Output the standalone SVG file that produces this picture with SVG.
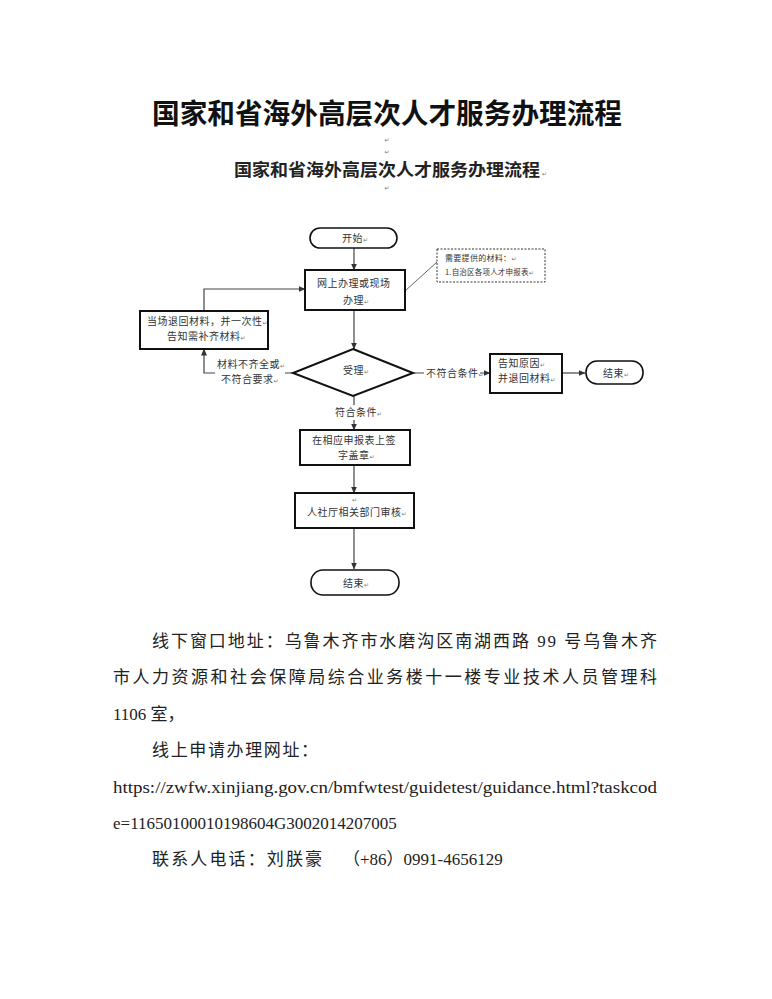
<svg xmlns="http://www.w3.org/2000/svg" width="772" height="999" viewBox="0 0 772 999">
<defs>
<marker id="ah" markerWidth="7" markerHeight="6" refX="6.5" refY="3" orient="auto" markerUnits="userSpaceOnUse"><path d="M0,0 L7,3 L0,6 Z" fill="#333"/></marker>
<style>
.cn{font-family:"Noto Sans CJK SC","Liberation Sans",sans-serif;font-size:10px;fill:#333;letter-spacing:0.5px}
.pm{font-family:"DejaVu Sans",sans-serif;font-size:6px;fill:#777;letter-spacing:0}
.box{fill:#fff;stroke:#111;stroke-width:2}
.term{fill:#fff;stroke:#111;stroke-width:1.6}
.ln{fill:none;stroke:#444;stroke-width:1.2}
.body{font-family:"Liberation Serif","Noto Sans CJK SC",serif;font-size:17px;fill:#222}
</style>
</defs>
<rect width="772" height="999" fill="#fff"/>
<g id="title">
<text x="152" y="124" font-family="Noto Sans CJK SC, sans-serif" font-size="28" font-weight="700" fill="#111" textLength="470" lengthAdjust="spacingAndGlyphs">国家和省海外高层次人才服务办理流程</text>
</g>
<g id="subtitle">
<text x="387" y="142" text-anchor="middle" class="pm">↵</text>
<text x="387" y="154" text-anchor="middle" class="pm">↵</text>
<text x="234" y="176" font-family="Noto Sans CJK SC, sans-serif" font-size="17" font-weight="700" fill="#222" textLength="306" lengthAdjust="spacingAndGlyphs">国家和省海外高层次人才服务办理流程</text>
<text x="542" y="176" class="pm">↵</text>
<text x="387" y="190" text-anchor="middle" class="pm">↵</text>
</g>
<g id="connectors">
<line class="ln" x1="354" y1="248" x2="354" y2="270" marker-end="url(#ah)"/>
<line class="ln" x1="354" y1="310" x2="354" y2="349" marker-end="url(#ah)"/>
<polyline class="ln" points="293,373 204,373 204,349" marker-end="url(#ah)"/>
<polyline class="ln" points="204,311 204,289 305,289" marker-end="url(#ah)"/>
<line class="ln" x1="413" y1="373" x2="490" y2="373" marker-end="url(#ah)"/>
<line class="ln" x1="562" y1="373" x2="585" y2="373" marker-end="url(#ah)"/>
<line class="ln" x1="354" y1="396" x2="354" y2="430" marker-end="url(#ah)"/>
<line class="ln" x1="354" y1="465" x2="354" y2="493" marker-end="url(#ah)"/>
<line class="ln" x1="354" y1="528" x2="354" y2="569" marker-end="url(#ah)"/>
<line x1="405" y1="291" x2="437" y2="262" stroke="#666" stroke-width="1"/>
<rect x="215" y="357" width="70" height="30" fill="#fff"/>
<text class="cn" x="217" y="368">材料不齐全或<tspan class="pm">↵</tspan></text>
<text class="cn" x="221" y="383">不符合要求<tspan class="pm">↵</tspan></text>
<rect x="424" y="366" width="56" height="14" fill="#fff"/>
<text class="cn" x="426" y="377">不符合条件<tspan class="pm">↵</tspan></text>
<rect x="332" y="405" width="52" height="15" fill="#fff"/>
<text class="cn" x="335" y="416">符合条件<tspan class="pm">↵</tspan></text>
</g>
<g id="start">
<rect class="term" x="310" y="228" width="87" height="20" rx="10"/>
<text class="cn" x="342" y="242">开始<tspan class="pm">↵</tspan></text>
</g>
<g id="online">
<rect class="box" x="305" y="270" width="100" height="40"/>
<text class="cn" x="317" y="287">网上办理或现场</text>
<text class="cn" x="343" y="304">办理<tspan class="pm">↵</tspan></text>
</g>
<g id="note">
<rect x="437" y="249" width="108" height="33" fill="#fff" stroke="#333" stroke-width="1" stroke-dasharray="2,1.5"/>
<text class="cn" x="445" y="261" style="font-size:8px;letter-spacing:0.3px">需要提供的材料：<tspan class="pm">↵</tspan></text>
<text class="cn" x="445" y="275" style="font-size:7.5px;letter-spacing:0.2px">1.自治区各项人才申报表<tspan class="pm">↵</tspan></text>
</g>
<g id="returnbox">
<rect class="box" x="140" y="311" width="128" height="38"/>
<text class="cn" x="147" y="325">当场退回材料，并一次性<tspan class="pm">↵</tspan></text>
<text class="cn" x="167" y="340">告知需补齐材料<tspan class="pm">↵</tspan></text>
</g>
<g id="accept">
<polygon points="353,349 413,373 353,396 293,373" fill="#fff" stroke="#111" stroke-width="2"/>
<text class="cn" x="343" y="374">受理<tspan class="pm">↵</tspan></text>
</g>
<g id="reject">
<rect class="box" x="490" y="354" width="72" height="39"/>
<text class="cn" x="498" y="367">告知原因<tspan class="pm">↵</tspan></text>
<text class="cn" x="498" y="382">并退回材料<tspan class="pm">↵</tspan></text>
</g>
<g id="end1">
<rect class="term" x="586" y="361" width="57" height="23" rx="11"/>
<text class="cn" x="603" y="377">结束<tspan class="pm">↵</tspan></text>
</g>
<g id="sign">
<rect class="box" x="300" y="430" width="110" height="35"/>
<text class="cn" x="312" y="444">在相应申报表上签</text>
<text class="cn" x="338" y="459">字盖章<tspan class="pm">↵</tspan></text>
</g>
<g id="review">
<rect class="box" x="295" y="493" width="119" height="35"/>
<text class="pm" x="352" y="502">↵</text>
<text class="cn" x="307" y="516">人社厅相关部门审核<tspan class="pm">↵</tspan></text>
</g>
<g id="end2">
<rect class="term" x="311" y="570" width="88" height="25" rx="12"/>
<text class="cn" x="343" y="587">结束<tspan class="pm">↵</tspan></text>
</g>
<g id="bodytext">
<text class="body" x="152" y="647" textLength="505" lengthAdjust="spacing">线下窗口地址：乌鲁木齐市水磨沟区南湖西路 99 号乌鲁木齐</text>
<text class="body" x="113" y="683" textLength="544" lengthAdjust="spacing">市人力资源和社会保障局综合业务楼十一楼专业技术人员管理科</text>
<text class="body" x="113" y="720">1106 室，</text>
<text class="body" x="152" y="756" textLength="166" lengthAdjust="spacing">线上申请办理网址：</text>
<text class="body" x="113" y="793" textLength="544" lengthAdjust="spacingAndGlyphs">https://zwfw.xinjiang.gov.cn/bmfwtest/guidetest/guidance.html?taskcod</text>
<text class="body" x="113" y="829">e=11650100010198604G3002014207005</text>
<text class="body" x="152" y="865"><tspan textLength="170" lengthAdjust="spacing">联系人电话：刘朕豪</tspan><tspan x="343">（+86）0991-4656129</tspan></text>
</g>
</svg>
